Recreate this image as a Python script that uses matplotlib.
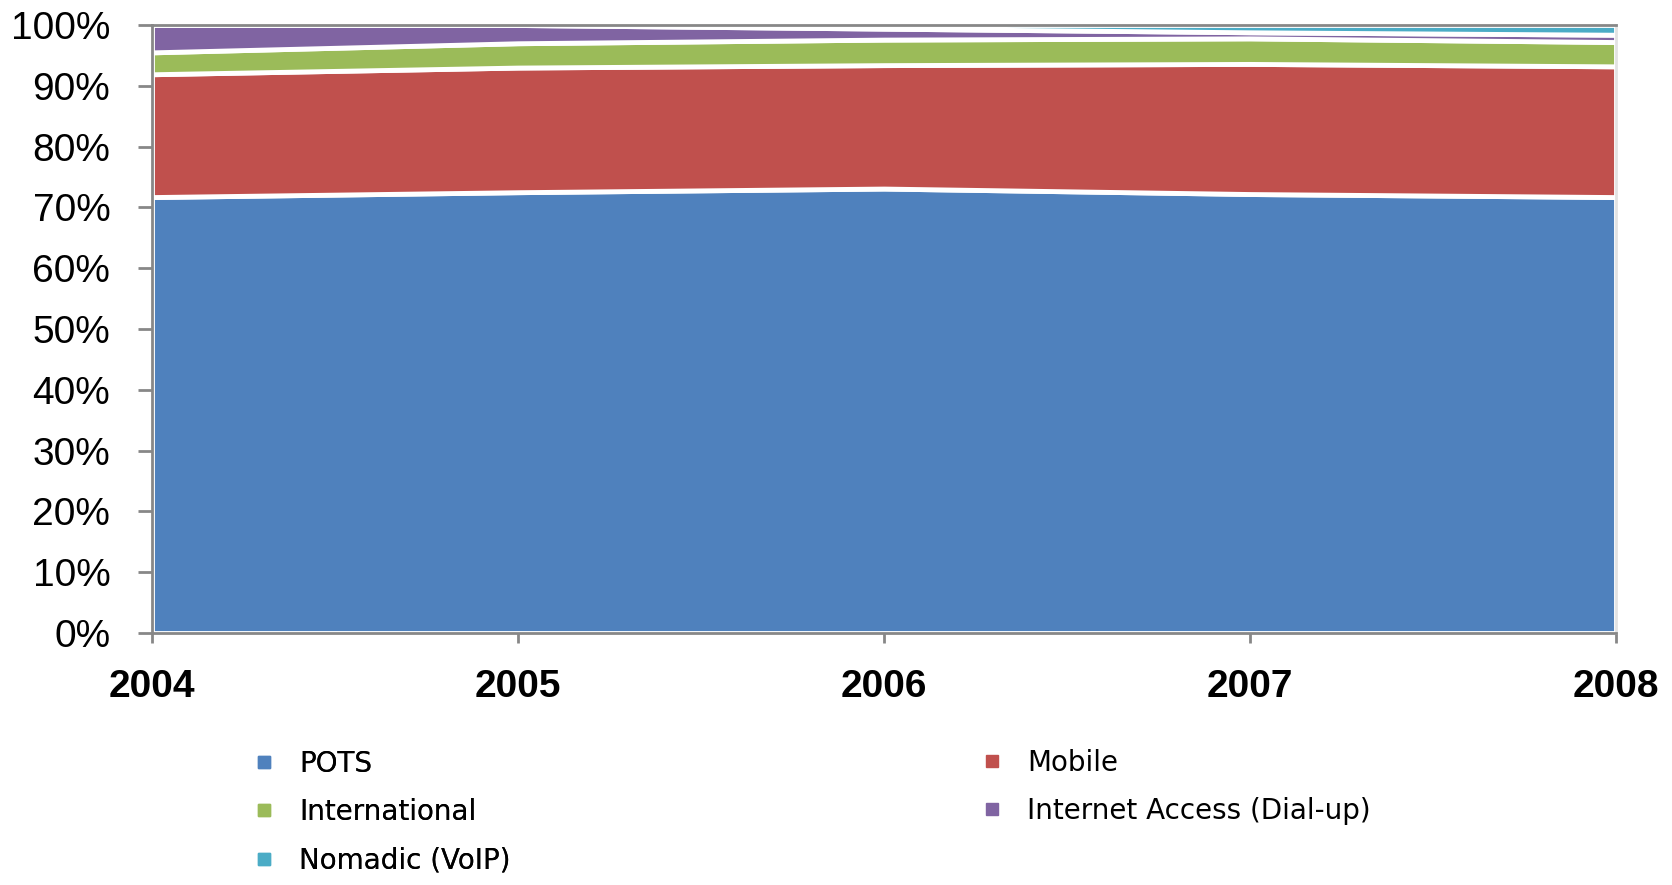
import matplotlib
matplotlib.use("Agg")
import matplotlib.pyplot as plt
from matplotlib.lines import Line2D
from matplotlib.ticker import FuncFormatter

# data (share of revenue, %)
years = [2004, 2005, 2006, 2007, 2008]
pots = [71.7, 72.5, 73.1, 72.2, 71.7]
mobile = [20.2, 20.5, 20.3, 21.4, 21.5]
international = [3.6, 4.0, 4.2, 4.2, 4.0]
internet = [4.5, 3.0, 1.8, 1.0, 1.2]
nomadic = [0.0, 0.0, 0.6, 1.2, 1.6]

labels = ["POTS", "Mobile", "International", "Internet Access (Dial-up)", "Nomadic (VoIP)"]
colors = ["#4F81BD", "#C0504D", "#9BBB59", "#8064A2", "#4BACC6"]
axis_grey = "#878787"

fig = plt.figure(figsize=(16.72, 8.85), dpi=100)
ax = fig.add_axes([152 / 1672, 1 - 633 / 885, (1616 - 152) / 1672, (633 - 25) / 885])

ax.stackplot(years, pots, mobile, international, internet, nomadic,
             colors=colors, edgecolor="white", linewidth=3.5)

ax.set_xlim(years[0], years[-1])
ax.set_ylim(0, 100)
ax.set_xticks(years)
ax.set_yticks(range(0, 101, 10))
ax.yaxis.set_major_formatter(FuncFormatter(lambda v, p: f"{v:.0f}%"))

for side in ["left", "bottom", "top"]:
    ax.spines[side].set_color(axis_grey)
    ax.spines[side].set_linewidth(2.0)
ax.spines["right"].set_color("#e2e2e2")
ax.spines["right"].set_linewidth(2.0)

ax.tick_params(axis="y", direction="out", length=10, width=2.0, color=axis_grey, pad=20)
ax.tick_params(axis="x", direction="out", length=7, width=2.0, color=axis_grey, pad=19)
for t in ax.get_yticklabels():
    t.set_fontfamily("Liberation Sans")
    t.set_fontsize(28)
for t in ax.get_xticklabels():
    t.set_fontfamily("Liberation Sans")
    t.set_fontsize(28)
    t.set_fontweight("bold")

# legend laid out in two columns under the plot
handles = [Line2D([], [], linestyle="none", marker="s", markersize=9,
                  markerfacecolor=c, markeredgecolor=c) for c in colors]
col1 = [0, 2, 4]
col2 = [1, 3]
kw = dict(loc="upper left", frameon=False, borderpad=0, fontsize=20,
          handlelength=0.8, handletextpad=0.86, labelspacing=0.73)
leg1 = fig.legend([handles[i] for i in col1], [labels[i] for i in col1],
                  bbox_to_anchor=(239 / 1672, 1 - 736 / 885), **kw)
fig.add_artist(leg1)
fig.legend([handles[i] for i in col2], [labels[i] for i in col2],
           bbox_to_anchor=(967 / 1672, 1 - 735 / 885), **kw)

fig.savefig("out.png", dpi=100)
